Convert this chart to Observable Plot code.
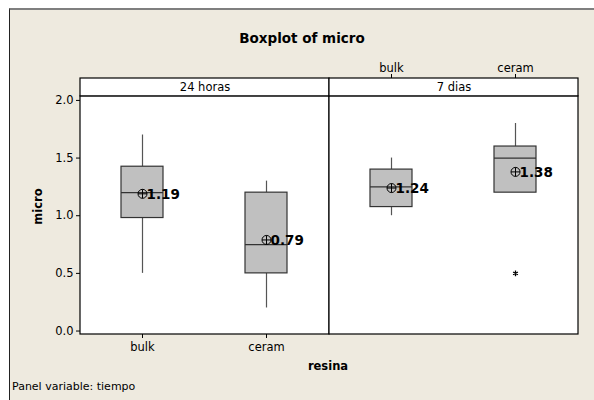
<!DOCTYPE html>
<html>
<head>
<meta charset="utf-8">
<script src="https://cdn.jsdelivr.net/npm/d3@7"></script>
<script src="https://cdn.jsdelivr.net/npm/@observablehq/plot@0.6"></script>
<style>
  html, body { margin: 0; padding: 0; background: #ffffff; }
  #wrap { position: relative; width: 594px; height: 400px; overflow: hidden;
          font-family: Tahoma, "DejaVu Sans", sans-serif; }
  #bg { position: absolute; left: 9px; top: 8px; width: 600px; height: 400px;
        background: #EEEADF; border-top: 2px solid #7f7f7f; border-left: 1px solid #222; }
  #chart { position: absolute; left: 0; top: 0; }
  .lbl { position: absolute; white-space: nowrap; font-size: 11px; color: #000; }
  #title { left: 0; width: 604px; text-align: center; top: 30px; font-size: 13.5px; font-weight: bold; }
  #xlabel { left: 228px; width: 200px; text-align: center; top: 359px; font-size: 11.5px; font-weight: bold; }
  #caption { left: 12px; top: 380px; font-size: 11px; }
  #chart svg [aria-label="y-axis label"] text { font-weight: bold; font-size: 11.5px; }
</style>
</head>
<body>
<div id="wrap">
  <div id="bg"></div>
  <div id="chart"></div>
  <div class="lbl" id="title">Boxplot of micro</div>
  <div class="lbl" id="xlabel">resina</div>
  <div class="lbl" id="caption">Panel variable: tiempo</div>
</div>
<script>
// ---- data ----
const tiempos = ["24 horas", "7 dias"];
const resinas = ["bulk", "ceram"];
const groupTiempo = ["24 horas", "24 horas", "7 dias", "7 dias"];
const groupResina = ["bulk", "ceram", "bulk", "ceram"];
const whiskerLow = [0.5, 0.2, 1.0, 1.2];
const q1 = [0.98, 0.5, 1.075, 1.2];
const median = [1.2, 0.75, 1.25, 1.5];
const q3 = [1.425, 1.2, 1.4, 1.6];
const whiskerHigh = [1.7, 1.3, 1.5, 1.8];
const means = [1.19, 0.79, 1.24, 1.38];
const outlierTiempo = ["7 dias"];
const outlierResina = ["ceram"];
const outlierValue = [0.5];
const yTicks = [0.0, 0.5, 1.0, 1.5, 2.0];

const boxes = groupTiempo.map((t, i) => ({
  tiempo: t, resina: groupResina[i], lo: whiskerLow[i], q1: q1[i], med: median[i],
  q3: q3[i], hi: whiskerHigh[i], mean: means[i]
}));
const outliers = outlierValue.map((v, i) => ({tiempo: outlierTiempo[i], resina: outlierResina[i], v}));

const yMin = -0.03, yPlotTop = 2.035, yStripTop = 2.19;
const strips = tiempos.map(t => ({tiempo: t}));
const topAxis = resinas.map(r => ({tiempo: "7 dias", resina: r}));
const bottomAxis = resinas.map(r => ({tiempo: "24 horas", resina: r}));

const meanSymbol = {
  draw(ctx, size) {
    const r = Math.sqrt(size / Math.PI);
    ctx.moveTo(r, 0); ctx.arc(0, 0, r, 0, 2 * Math.PI);
    ctx.moveTo(-r, 0); ctx.lineTo(r, 0);
    ctx.moveTo(0, -r); ctx.lineTo(0, r);
  }
};

const pxPerUnit = 115.4;
const chart = Plot.plot({
  width: 594, height: 400,
  marginLeft: 79, marginRight: 16, marginTop: 78, marginBottom: 66,
  style: {background: "transparent", fontFamily: "Tahoma, 'DejaVu Sans', sans-serif", fontSize: "11px", color: "#000"},
  fx: {domain: tiempos, padding: 0, axis: null},
  x: {domain: resinas, paddingInner: 0.661, paddingOuter: 0.3306, axis: null},
  y: {domain: [yMin, yStripTop], axis: null},
  marks: [
    // panel frame (white)
    Plot.rect(strips, {fx: "tiempo", y1: yMin, y2: yPlotTop, fill: "white", stroke: "#000", strokeWidth: 1.2}),
    // strip
    Plot.rect(strips, {fx: "tiempo", y1: yPlotTop, y2: yStripTop, fill: "white", stroke: "#000", strokeWidth: 1.2}),
    Plot.text(strips, {fx: "tiempo", text: "tiempo", y: (yPlotTop + yStripTop) / 2, frameAnchor: "middle", fontSize: 11.5}),
    // y axis (left panel only)
    Plot.axisY(yTicks, {facetAnchor: "left", anchor: "left", tickFormat: d3.format(".1f"), tickSize: 4, tickPadding: 3,
      label: "micro", labelAnchor: "center", labelArrow: "none", labelOffset: 47, fontSize: 11.5}),
    // whiskers
    Plot.ruleX(boxes, {fx: "tiempo", x: "resina", y1: "q3", y2: "hi", stroke: "#555", strokeWidth: 1.2}),
    Plot.ruleX(boxes, {fx: "tiempo", x: "resina", y1: "lo", y2: "q1", stroke: "#555", strokeWidth: 1.2}),
    // boxes
    Plot.barY(boxes, {fx: "tiempo", x: "resina", y1: "q1", y2: "q3", fill: "#C0C0C0", stroke: "#333", strokeWidth: 1.2}),
    Plot.tickY(boxes, {fx: "tiempo", x: "resina", y: "med", stroke: "#333", strokeWidth: 1.2}),
    // means
    Plot.dot(boxes, {fx: "tiempo", x: "resina", y: "mean", symbol: meanSymbol, r: 4.5, fill: "none", stroke: "#000", strokeWidth: 1}),
    Plot.text(boxes, {fx: "tiempo", x: "resina", y: "mean", text: d => d.mean.toFixed(2), textAnchor: "start", dx: 4, dy: 0.5,
      fontWeight: "bold", fontSize: 13.5}),
    // outliers
    Plot.dot(outliers, {fx: "tiempo", x: "resina", y: "v", symbol: "asterisk", r: 2.6, stroke: "#000", strokeWidth: 1.3}),
    // bottom x axis under first panel
    Plot.ruleX(bottomAxis, {fx: "tiempo", x: "resina", y1: yMin, y2: yMin - 4 / pxPerUnit, stroke: "#000"}),
    Plot.text(bottomAxis, {fx: "tiempo", x: "resina", y: yMin - 4 / pxPerUnit, text: "resina", lineAnchor: "top", dy: 4, fontSize: 11.5}),
    // top x axis over second panel
    Plot.ruleX(topAxis, {fx: "tiempo", x: "resina", y1: yStripTop, y2: yStripTop + 4 / pxPerUnit, stroke: "#000"}),
    Plot.text(topAxis, {fx: "tiempo", x: "resina", y: yStripTop + 4 / pxPerUnit, text: "resina", lineAnchor: "bottom", dy: -3, fontSize: 11.5})
  ]
});
document.getElementById("chart").appendChild(chart);
</script>
</body>
</html>
